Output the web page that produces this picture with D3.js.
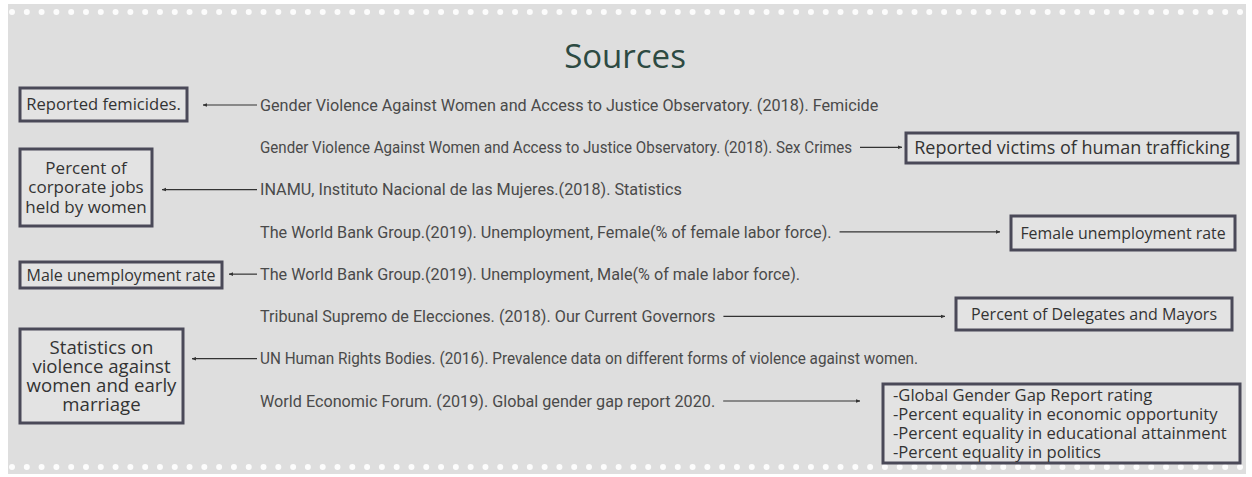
<!DOCTYPE html>
<html>
<head>
<meta charset="utf-8">
<script src="https://cdn.jsdelivr.net/npm/d3@7"></script>
<style>
  body { margin: 0; background: #ffffff; }
  .source { font-family: Roboto, sans-serif; font-size: 16.2px; fill: #4a4a4a; }
  .label { font-family: "Open Sans", Lato, sans-serif; fill: #333333; }
  .title { font-family: "Open Sans", Lato, sans-serif; font-size: 33px; fill: #2d4a42; }
</style>
</head>
<body>
<div id="viz"></div>
<script>
// frame size
const F_WIDTH = 1252;
const F_HEIGHT = 477;

// data: sources, what each one feeds, and which side the box sits on
const SOURCES = [
  "Gender Violence Against Women and Access to Justice Observatory. (2018). Femicide",
  "Gender Violence Against Women and Access to Justice Observatory. (2018). Sex Crimes",
  "INAMU, Instituto Nacional de las Mujeres.(2018). Statistics",
  "The World Bank Group.(2019). Unemployment, Female(% of female labor force).",
  "The World Bank Group.(2019). Unemployment, Male(% of male labor force).",
  "Tribunal Supremo de Elecciones. (2018). Our Current Governors",
  "UN Human Rights Bodies. (2016). Prevalence data on different forms of violence against women.",
  "World Economic Forum. (2019). Global gender gap report 2020."
];

const TARGETS = [
  ["Reported femicides."],
  ["Reported victims of human trafficking"],
  ["Percent of", "corporate jobs", "held by women"],
  ["Female unemployment rate"],
  ["Male unemployment rate"],
  ["Percent of Delegates and Mayors"],
  ["Statistics on", "violence against", "women and early", "marriage"],
  ["-Global Gender Gap Report rating",
   "-Percent equality in economic opportunity",
   "-Percent equality in educational attainment",
   "-Percent equality in politics"]
];

const SIDES = ["left", "right", "left", "right", "left", "right", "left", "right"];

// two source lines are squeezed narrower in the original
const SRC_SQUEEZE = [null, 592, null, null, null, null, 658, null];

// layout of the boxes (x, y, w, h, font size, line gap) and where each arrow tip stops
const BOXES = [
  {x: 20,  y: 88,  w: 167, h: 33, fs: 16.6, lh: 0,    tip: 203},
  {x: 906, y: 133, w: 332, h: 30, fs: 18,   lh: 0,    tip: 902},
  {x: 20,  y: 149, w: 132, h: 77, fs: 17,   lh: 19.5, tip: 162},
  {x: 1011, y: 216, w: 224, h: 34, fs: 15.9, lh: 0,   tip: 1000},
  {x: 20,  y: 262, w: 202, h: 26, fs: 16,   lh: 0,    tip: 229},
  {x: 956, y: 298, w: 276, h: 32, fs: 16,   lh: 0,    tip: 945},
  {x: 20,  y: 329, w: 163, h: 94, fs: 18.6, lh: 19.2, tip: 192},
  {x: 883, y: 384, w: 357, h: 79, fs: 16.6, lh: 19.2, tip: 860}
];

const TEXT_X = 260;

const FRAME = d3.select("#viz")
  .append("svg")
    .attr("width", F_WIDTH)
    .attr("height", F_HEIGHT);

// arrowhead
FRAME.append("defs").append("marker")
    .attr("id", "head")
    .attr("viewBox", "0 0 10 10")
    .attr("refX", 9).attr("refY", 5)
    .attr("markerWidth", 4).attr("markerHeight", 4)
    .attr("orient", "auto")
  .append("path")
    .attr("d", "M0,1 L10,5 L0,9 Z")
    .attr("fill", "#333");

// grey card
FRAME.append("rect")
    .attr("x", 8).attr("y", 4)
    .attr("width", 1238).attr("height", 470)
    .attr("fill", "#dedede");

// dotted edges
const DOT_X = d3.scaleLinear().domain([0, 83]).range([12, 1240]);
[12, 467].forEach(cy => {
  FRAME.selectAll(null)
    .data(d3.range(84))
    .enter()
    .append("circle")
      .attr("cx", d => DOT_X(d))
      .attr("cy", cy)
      .attr("r", 3)
      .attr("fill", "#ffffff")
      .attr("opacity", 0.9);
});

FRAME.append("text")
    .attr("class", "title")
    .attr("x", 625).attr("y", 68)
    .attr("text-anchor", "middle")
    .text("Sources");

const Y_SCALE = d3.scalePoint()
    .domain(d3.range(SOURCES.length))
    .range([105, 401]);

// source lines
const srcText = FRAME.selectAll(".source")
  .data(SOURCES)
  .enter()
  .append("text")
    .attr("class", "source")
    .attr("x", TEXT_X)
    .attr("y", (d, i) => Y_SCALE(i))
    .attr("dy", "0.35em")
    .text(d => d);

srcText.filter((d, i) => SRC_SQUEEZE[i])
    .attr("textLength", (d, i, n) => SRC_SQUEEZE[SOURCES.indexOf(d)])
    .attr("lengthAdjust", "spacingAndGlyphs");

// arrows
srcText.each(function(d, i) {
  const y = Y_SCALE(i);
  const end = TEXT_X + (SRC_SQUEEZE[i] || this.getComputedTextLength());
  const x1 = SIDES[i] === "left" ? TEXT_X - 3 : end + 8;
  FRAME.append("line")
      .attr("x1", x1).attr("y1", y)
      .attr("x2", BOXES[i].tip).attr("y2", y)
      .attr("stroke", "#333")
      .attr("stroke-width", 1.2)
      .attr("marker-end", "url(#head)");
});

// target boxes
const box = FRAME.selectAll(".box")
  .data(TARGETS)
  .enter()
  .append("g")
    .attr("class", "box");

box.append("rect")
    .attr("x", (d, i) => BOXES[i].x)
    .attr("y", (d, i) => BOXES[i].y)
    .attr("width", (d, i) => BOXES[i].w)
    .attr("height", (d, i) => BOXES[i].h)
    .attr("fill", "#e3e3e3")
    .attr("stroke", "#4a4958")
    .attr("stroke-width", 3);

// one text per box, lines as tspans
box.each(function(lines, i) {
  const b = BOXES[i];
  const multiLeft = i === 7;
  const tx = multiLeft ? b.x + 10 : b.x + b.w / 2;
  const y0 = b.y + b.h / 2 - (lines.length - 1) * b.lh / 2;
  const t = d3.select(this).append("text")
      .attr("class", "label")
      .style("font-size", b.fs + "px")
      .attr("text-anchor", multiLeft ? "start" : "middle");
  t.selectAll("tspan")
    .data(lines)
    .enter()
    .append("tspan")
      .attr("x", tx)
      .attr("y", (d, j) => y0 + j * b.lh)
      .attr("dy", "0.35em")
      .text(d => d);
});
</script>
</body>
</html>
